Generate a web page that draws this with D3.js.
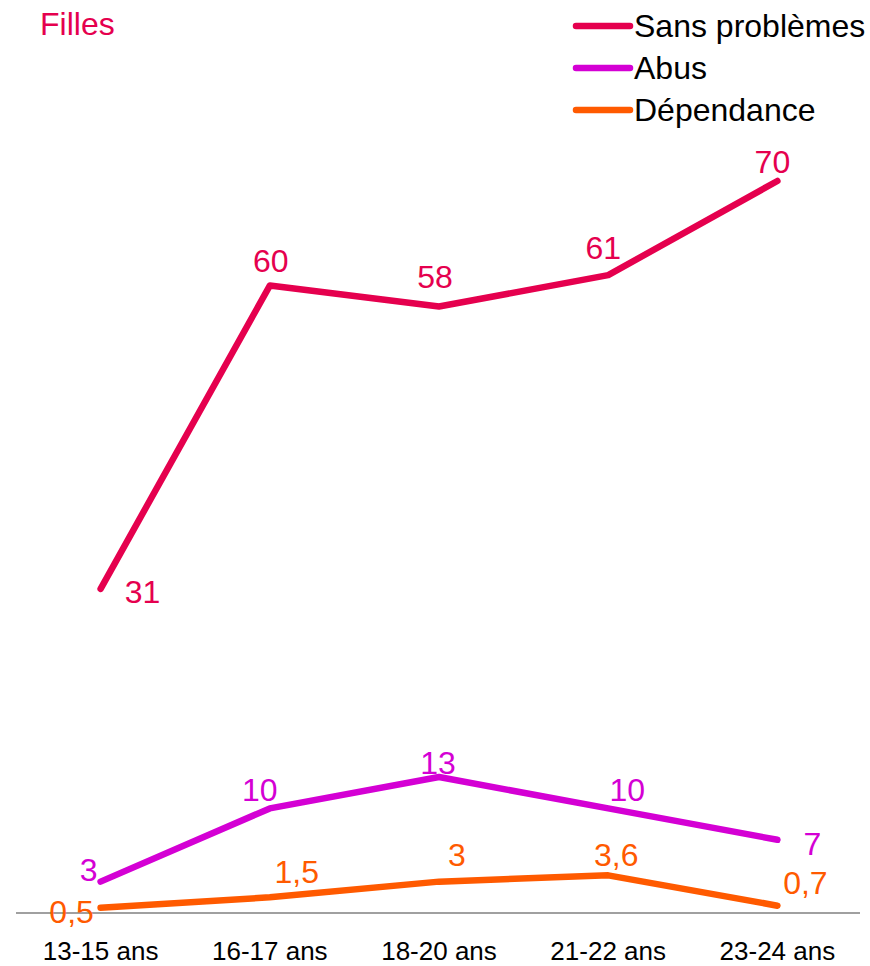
<!DOCTYPE html>
<html>
<head>
<meta charset="utf-8">
<script src="https://cdn.jsdelivr.net/npm/d3@7"></script>
<style>
  body { margin: 0; background: #fff; }
  svg { display: block; font-family: "Liberation Sans", Arial, sans-serif; }
</style>
</head>
<body>
<svg id="chart" width="870" height="966"></svg>
<script>
// data
var categories = ["13-15 ans", "16-17 ans", "18-20 ans", "21-22 ans", "23-24 ans"];
var seriesNames = ["Sans problèmes", "Abus", "Dépendance"];
var sansProblemes = [31, 60, 58, 61, 70];
var abus = [3, 10, 13, 10, 7];
var dependance = [0.5, 1.5, 3, 3.6, 0.7];

var colors = ["#e5004e", "#d400d4", "#ff5a00"];
// label offsets (dx, dy) from each point
var labelOffsets = [
  [[42, 14], [1, -14], [-4, -18], [-5, -16], [-5, -8]],
  [[-12, -1], [-10, -7], [-1, -3], [19, -7], [35, 15]],
  [[-29, 15], [27, -14], [18, -16], [8, -9], [28, -12]]
];

var svg = d3.select("#chart");
var baseY = 913;

var x = d3.scaleBand().domain(categories).range([16, 862]);
var y = d3.scaleLinear().domain([0, 70]).range([baseY, 181]);
var cx = function(c) { return x(c) + x.bandwidth() / 2; };

// baseline
svg.append("line")
  .attr("x1", 16).attr("x2", 860)
  .attr("y1", baseY).attr("y2", baseY)
  .attr("stroke", "#a0a0a0").attr("stroke-width", 2);

// x labels
svg.selectAll("text.xlab")
  .data(categories)
  .enter().append("text")
  .attr("class", "xlab")
  .attr("x", cx)
  .attr("y", 960)
  .attr("text-anchor", "middle")
  .style("font-size", "26px")
  .style("fill", "#000")
  .text(d => d);

var allSeries = [sansProblemes, abus, dependance];
var line = d3.line()
  .x((d, i) => cx(categories[i]))
  .y(d => y(d));

allSeries.forEach(function(vals, s) {
  svg.append("path")
    .datum(vals)
    .attr("d", line)
    .attr("fill", "none")
    .attr("stroke", colors[s])
    .attr("stroke-width", 6.5)
    .attr("stroke-linecap", "round")
    .attr("stroke-linejoin", "round");

  svg.selectAll("text.lab" + s)
    .data(vals)
    .enter().append("text")
    .attr("class", "lab" + s)
    .attr("x", (d, i) => cx(categories[i]) + labelOffsets[s][i][0])
    .attr("y", (d, i) => y(d) + labelOffsets[s][i][1])
    .attr("text-anchor", "middle")
    .style("font-size", "32px")
    .style("fill", colors[s])
    .text(d => String(d).replace(".", ","));
});

// title
svg.append("text")
  .attr("x", 40).attr("y", 35)
  .style("font-size", "32px")
  .style("fill", colors[0])
  .text("Filles");

// legend
var leg = svg.selectAll("g.leg")
  .data(seriesNames)
  .enter().append("g")
  .attr("class", "leg")
  .attr("transform", (d, i) => "translate(574," + (26 + i * 42) + ")");

leg.append("line")
  .attr("x1", 2).attr("x2", 56)
  .attr("stroke", (d, i) => colors[i])
  .attr("stroke-width", 6.5)
  .attr("stroke-linecap", "round");

leg.append("text")
  .attr("x", 60).attr("y", 11)
  .style("font-size", "32px")
  .style("fill", "#000")
  .text(d => d);
</script>
</body>
</html>
